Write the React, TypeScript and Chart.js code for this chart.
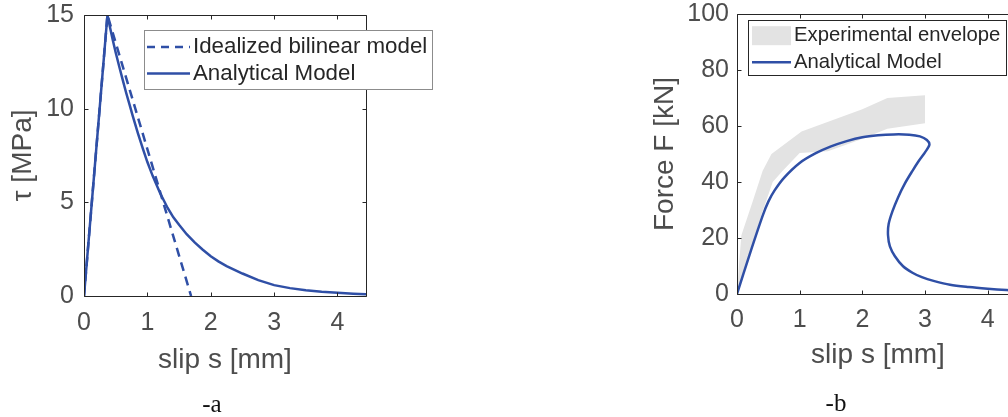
import React, { useEffect, useRef } from "react";
import { Chart, registerables } from "chart.js";

Chart.register(...registerables);

const BLUE = "#2f4fa6";
const ENVELOPE = "#e3e3e3";
const AXIS = "#262626";
const TEXT = "#4d4d4d";
const FONT = "'Liberation Sans', Arial, sans-serif";

// ---------- Panel a : bond-slip law ----------
const slipModelA = [0, 0.37, 0.41, 0.455, 0.5, 0.56, 0.61, 0.665, 0.72, 0.77, 0.85, 0.93, 1.0, 1.085, 1.2, 1.32, 1.41, 1.5, 1.62, 1.75, 1.87, 2.0, 2.12, 2.25, 2.5, 2.75, 3.0, 3.25, 3.5, 3.75, 4.0, 4.25, 4.45];
const tauModelA = [0, 15, 14.35, 13.65, 13.0, 12.2, 11.55, 10.85, 10.2, 9.6, 8.7, 7.85, 7.15, 6.4, 5.5, 4.7, 4.2, 3.8, 3.3, 2.85, 2.48, 2.12, 1.85, 1.6, 1.2, 0.85, 0.58, 0.42, 0.31, 0.23, 0.17, 0.12, 0.09];
const slipBilinear = [0, 0.37, 1.69];
const tauBilinear = [0, 15, 0];
const xTicksA = [0, 1, 2, 3, 4];
const yTicksA = [0, 5, 10, 15];

// ---------- Panel b : force-slip ----------
const slipModelB = [0, 0.2, 0.41, 0.5, 0.6, 0.75, 1.0, 1.25, 1.5, 1.75, 2.0, 2.25, 2.5, 2.75, 2.92, 3.03, 3.07, 3.0, 2.9, 2.8, 2.68, 2.57, 2.48, 2.42, 2.41, 2.44, 2.52, 2.65, 2.8, 2.95, 3.15, 3.4, 3.7, 4.0, 4.3, 4.5];
const forceModelB = [0, 14, 28, 33, 37, 41.5, 46.8, 50.2, 52.7, 54.6, 56, 56.7, 57, 56.9, 56.3, 55, 53.3, 50.6, 47.5, 44, 39.5, 34.5, 29.5, 25, 21, 17, 13.5, 9.9, 7.6, 6.0, 4.6, 3.3, 2.5, 1.9, 1.4, 1.1];
const slipEnvelope = [0, 0.03, 0.07, 0.25, 0.41, 0.55, 1.03, 1.64, 2.0, 2.4, 3.0, 3.0, 2.4, 1.95, 1.45, 1.0, 0.73, 0.57, 0.4, 0.2, 0];
const forceEnvelope = [0, 10, 21, 33, 44, 50, 58, 63, 66, 70, 71, 61, 59, 55, 51, 50.4, 44, 40, 29, 14, 0];
const xTicksB = [0, 1, 2, 3, 4];
const yTicksB = [0, 20, 40, 60, 80, 100];

function toPoints(xs: number[], ys: number[]) {
  return xs.map((x, i) => ({ x, y: ys[i] }));
}

const frameLegend = {
  id: "frameLegend",
  afterDraw(chart: any, _args: any, opts: any) {
    const { ctx, chartArea: a } = chart;
    const xs = chart.scales.x;
    const ys = chart.scales.y;
    ctx.save();
    ctx.strokeStyle = AXIS;
    ctx.lineWidth = 1;
    const L = Math.round(a.left) + 0.5;
    const R = Math.round(a.right) + 0.5;
    const T = Math.round(a.top) + 0.5;
    const B = Math.round(a.bottom) + 0.5;
    ctx.beginPath();
    ctx.rect(L, T, R - L, B - T);
    const tl = 4;
    for (const t of xs.ticks) {
      const px = Math.round(xs.getPixelForValue(t.value)) + 0.5;
      ctx.moveTo(px, B);
      ctx.lineTo(px, B - tl);
      ctx.moveTo(px, T);
      ctx.lineTo(px, T + tl);
    }
    for (const t of ys.ticks) {
      const py = Math.round(ys.getPixelForValue(t.value)) + 0.5;
      ctx.moveTo(L, py);
      ctx.lineTo(L + tl, py);
      ctx.moveTo(R, py);
      ctx.lineTo(R - tl, py);
    }
    ctx.stroke();

    // legend
    const lg = opts.legend;
    if (lg) {
      ctx.fillStyle = "#ffffff";
      ctx.fillRect(lg.x, lg.y, lg.w, lg.h);
      ctx.strokeStyle = lg.border;
      ctx.lineWidth = 1;
      ctx.strokeRect(lg.x, lg.y, lg.w, lg.h);
      ctx.font = `${lg.fontSize}px ${FONT}`;
      ctx.textBaseline = "middle";
      ctx.textAlign = "left";
      for (const it of lg.items) {
        const ds = chart.data.datasets[it.dataset];
        if (it.kind === "patch") {
          ctx.fillStyle = ds.backgroundColor;
          ctx.fillRect(lg.sx0, it.y - lg.patchH / 2, lg.sx1 - lg.sx0, lg.patchH);
        } else {
          ctx.strokeStyle = ds.borderColor;
          ctx.lineWidth = ds.borderWidth;
          ctx.setLineDash(it.kind === "dash" ? [8, 6] : []);
          ctx.beginPath();
          ctx.moveTo(lg.sx0, it.y);
          ctx.lineTo(lg.sx1, it.y);
          ctx.stroke();
          ctx.setLineDash([]);
        }
        ctx.fillStyle = "#262626";
        ctx.fillText(ds.label, lg.tx, it.y);
      }
    }
    ctx.restore();
  },
};

function makeScales(cfg: {
  xMin: number; xMax: number; xTicks: number[];
  yMin: number; yMax: number; yTicks: number[];
  xHeight: number; yWidth: number;
  xPad: number; yPad: number;
  xTitle: string; yTitle: string;
  xTitleBottom: number; yTitleTop: number;
}) {
  const tickFont = { family: FONT, size: 25, lineHeight: 1 };
  const titleFont = { family: FONT, size: 28, lineHeight: 1.2 };
  return {
    x: {
      type: "linear",
      min: cfg.xMin,
      max: cfg.xMax,
      afterBuildTicks: (s: any) => {
        s.ticks = cfg.xTicks.map((v) => ({ value: v }));
      },
      afterFit: (s: any) => {
        s.height = cfg.xHeight;
        s.paddingLeft = 0;
        s.paddingRight = 0;
        s.paddingTop = 0;
        s.paddingBottom = 0;
      },
      grid: { display: false, drawTicks: false },
      border: { display: false },
      ticks: {
        color: TEXT,
        font: tickFont,
        padding: cfg.xPad,
        maxRotation: 0,
        autoSkip: false,
        callback: (v: any) => String(v),
      },
      title: {
        display: true,
        text: cfg.xTitle,
        color: TEXT,
        font: titleFont,
        padding: { top: 0, bottom: cfg.xTitleBottom },
      },
    },
    y: {
      type: "linear",
      min: cfg.yMin,
      max: cfg.yMax,
      afterBuildTicks: (s: any) => {
        s.ticks = cfg.yTicks.map((v) => ({ value: v }));
      },
      afterFit: (s: any) => {
        s.width = cfg.yWidth;
        s.paddingLeft = 0;
        s.paddingRight = 0;
        s.paddingTop = 0;
        s.paddingBottom = 0;
      },
      grid: { display: false, drawTicks: false },
      border: { display: false },
      ticks: {
        color: TEXT,
        font: tickFont,
        padding: cfg.yPad,
        autoSkip: false,
        callback: (v: any) => String(v),
      },
      title: {
        display: true,
        text: cfg.yTitle,
        color: TEXT,
        font: titleFont,
        padding: { top: cfg.yTitleTop, bottom: 0 },
      },
    },
  };
}

export default function App() {
  const leftRef = useRef<HTMLCanvasElement>(null);
  const rightRef = useRef<HTMLCanvasElement>(null);

  useEffect(() => {
    const left = new Chart(leftRef.current as HTMLCanvasElement, {
      type: "line",
      data: {
        datasets: [
          {
            label: "Idealized bilinear model",
            data: toPoints(slipBilinear, tauBilinear),
            borderColor: BLUE,
            borderWidth: 2.5,
            borderDash: [9, 6],
            pointRadius: 0,
            fill: false,
            tension: 0,
          },
          {
            label: "Analytical Model",
            data: toPoints(slipModelA, tauModelA),
            borderColor: BLUE,
            borderWidth: 2.5,
            pointRadius: 0,
            fill: false,
            tension: 0,
          },
        ],
      },
      options: {
        responsive: false,
        animation: false,
        events: [],
        layout: { padding: { left: 0, top: 15, right: 84, bottom: 0 } },
        scales: makeScales({
          xMin: 0, xMax: 4.45, xTicks: xTicksA,
          yMin: 0, yMax: 15, yTicks: yTicksA,
          xHeight: 121, yWidth: 84,
          xPad: 15, yPad: 10,
          xTitle: "slip s [mm]", yTitle: "τ [MPa]",
          xTitleBottom: 40, yTitleTop: 6,
        }) as any,
        plugins: {
          legend: { display: false },
          tooltip: { enabled: false },
          frameLegend: {
            legend: {
              x: 144.5, y: 30.5, w: 288, h: 59,
              border: "#8c8c8c",
              fontSize: 22.3,
              sx0: 147, sx1: 190, tx: 193, patchH: 19,
              items: [
                { kind: "dash", dataset: 0, y: 47 },
                { kind: "line", dataset: 1, y: 73.5 },
              ],
            },
          },
        } as any,
      },
      plugins: [frameLegend],
    });

    const right = new Chart(rightRef.current as HTMLCanvasElement, {
      type: "line",
      data: {
        datasets: [
          {
            label: "Analytical Model",
            data: toPoints(slipModelB, forceModelB),
            borderColor: BLUE,
            borderWidth: 2.5,
            pointRadius: 0,
            fill: false,
            tension: 0.3,
            order: 0,
          },
          {
            label: "Experimental envelope",
            data: toPoints(slipEnvelope, forceEnvelope),
            borderColor: "rgba(0,0,0,0)",
            backgroundColor: ENVELOPE,
            borderWidth: 0,
            pointRadius: 0,
            fill: "shape",
            tension: 0,
            order: 1,
          },
        ],
      },
      options: {
        responsive: false,
        animation: false,
        events: [],
        layout: { padding: { left: 0, top: 14, right: 21, bottom: 0 } },
        scales: makeScales({
          xMin: 0, xMax: 4.5, xTicks: xTicksB,
          yMin: 0, yMax: 100, yTicks: yTicksB,
          xHeight: 123, yWidth: 137,
          xPad: 14, yPad: 8,
          xTitle: "slip s [mm]", yTitle: "Force F [kN]",
          xTitleBottom: 45, yTitleTop: 48,
        }) as any,
        plugins: {
          legend: { display: false },
          tooltip: { enabled: false },
          frameLegend: {
            legend: {
              x: 148.5, y: 20.5, w: 258, h: 55,
              border: "#262626",
              fontSize: 20.3,
              sx0: 152, sx1: 191, tx: 194, patchH: 19,
              items: [
                { kind: "patch", dataset: 1, y: 35.7 },
                { kind: "line", dataset: 0, y: 62.3 },
              ],
            },
          },
        } as any,
      },
      plugins: [frameLegend],
    });

    return () => {
      left.destroy();
      right.destroy();
    };
  }, []);

  const capStyle: React.CSSProperties = {
    position: "absolute",
    width: 100,
    textAlign: "center",
    fontFamily: "'Liberation Serif', 'Times New Roman', serif",
    fontSize: 25,
    lineHeight: "25px",
    color: "#111",
  };

  return (
    <div
      style={{
        position: "fixed",
        left: 0,
        top: 0,
        width: 1008,
        height: 417,
        overflow: "hidden",
        background: "#ffffff",
      }}
    >
      <canvas ref={leftRef} width={450} height={417} style={{ position: "absolute", left: 0, top: 0 }} />
      <canvas ref={rightRef} width={440} height={417} style={{ position: "absolute", left: 600, top: 0 }} />
      <div style={{ ...capStyle, left: 162, top: 391 }}>-a</div>
      <div style={{ ...capStyle, left: 786, top: 390 }}>-b</div>
    </div>
  );
}
